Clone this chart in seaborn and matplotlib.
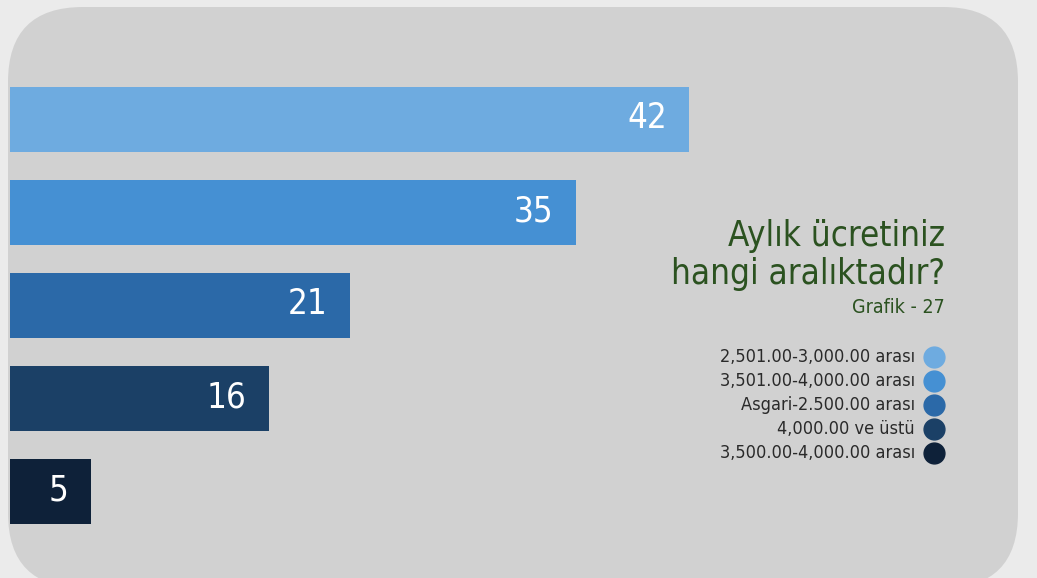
import matplotlib

matplotlib.use("Agg")
import matplotlib.pyplot as plt
import pandas as pd
import seaborn as sns
from matplotlib.lines import Line2D
from matplotlib.patches import FancyBboxPatch

# data
categories = [
    "2,501.00-3,000.00 arası",
    "3,501.00-4,000.00 arası",
    "Asgari-2.500.00 arası",
    "4,000.00 ve üstü",
    "3,500.00-4,000.00 arası",
]
values = [42, 35, 21, 16, 5]
colors = ["#6eabe0", "#4590d3", "#2b69a8", "#1b4066", "#0e2139"]

title_lines = ["Aylık ücretiniz", "hangi aralıktadır?"]
subtitle = "Grafik - 27"

GREEN = "#2b5220"
TEXT = "#2a2a2a"

sns.set_theme(style="white")
plt.rcParams["font.family"] = ["DejaVu Sans"]
plt.rcParams["font.stretch"] = "condensed"  # picks DejaVu Sans Condensed

W, H = 1037, 578
fig = plt.figure(figsize=(W / 100, H / 100), dpi=100)
fig.patch.set_facecolor("#ebebeb")

# rounded grey card behind everything (inches = px / 100)
panel = FancyBboxPatch(
    (8 / 100, (H - 588) / 100), (1018 - 8) / 100, (588 - 7) / 100,
    boxstyle="round,pad=0,rounding_size=0.75",
    transform=fig.dpi_scale_trans,
    facecolor="#d1d1d1", edgecolor="none", zorder=-1,
)
fig.add_artist(panel)

ax = fig.add_axes([10 / W, (H - 538) / H, 1000 / W, 465 / H])
ax.set_facecolor("none")
df = pd.DataFrame({"aralik": categories, "kisi": values})
sns.barplot(
    data=df, x="kisi", y="aralik", hue="aralik", palette=colors,
    orient="h", width=0.7, saturation=1, legend=False, ax=ax,
    linewidth=0, edgecolor="none",
)
ax.set_xlim(0, 1000 / 16.17)
ax.set_ylim(len(values) - 0.5, -0.5)
ax.axis("off")

for i, v in enumerate(values):
    ax.annotate(
        str(v), xy=(v, i), xytext=(-16, 1), textcoords="offset points",
        ha="right", va="center", color="white", fontsize=25,
    )

# title block
fig.text(945 / W, 1 - 246 / H, title_lines[0], ha="right", va="baseline",
         fontsize=25, color=GREEN)
fig.text(945 / W, 1 - 284 / H, title_lines[1], ha="right", va="baseline",
         fontsize=25, color=GREEN)
fig.text(945 / W, 1 - 313 / H, subtitle, ha="right", va="baseline",
         fontsize=14, color=GREEN)

# legend: right aligned labels with dots on the right
for i, (label, c) in enumerate(zip(categories, colors)):
    y = 1 - (357 + i * 24) / H
    fig.text(915 / W, y, label, ha="right", va="center", fontsize=13, color=TEXT)
    fig.add_artist(Line2D([934 / W], [y], marker="o", markersize=15,
                          color=c, linestyle="none", transform=fig.transFigure))

fig.savefig("out.png", dpi=100, facecolor=fig.get_facecolor())
